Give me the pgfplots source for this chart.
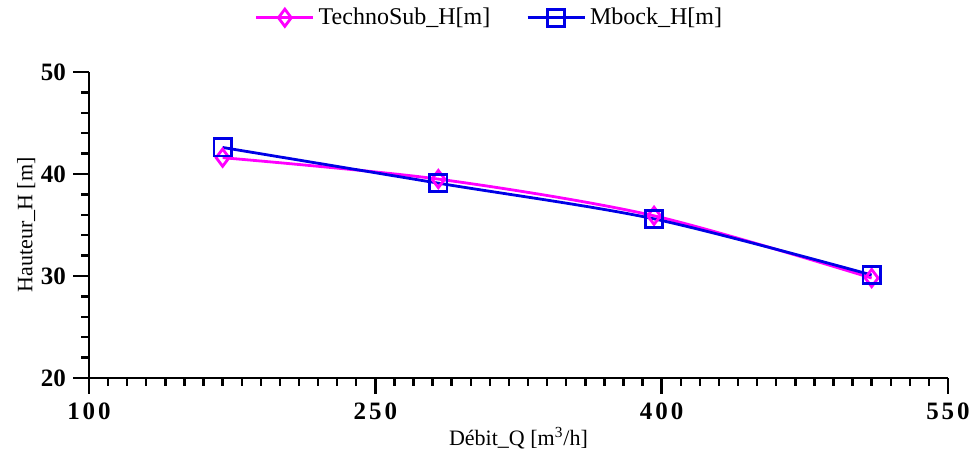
\documentclass[border=0pt]{standalone}
\usepackage{fontspec}
\setmainfont{Liberation Serif}
\usepackage{pgfplots}
\pgfplotsset{compat=1.18}
\usetikzlibrary{calc}
\definecolor{mag}{RGB}{255,0,255}
\definecolor{blu}{RGB}{0,0,230}
\begin{document}
\begin{tikzpicture}
\begin{axis}[
  scale only axis,
  width=429.5pt, height=153pt,
  xmin=100, xmax=550, ymin=20, ymax=50,
  xtick={100,250,400,550}, ytick={20,30,40,50},
  minor xtick={110,120,...,540}, minor ytick={22,24,26,28,32,34,36,38,42,44,46,48},
  axis x line*=bottom, axis y line*=left,
  axis line style={line width=1.2pt,-},
  major tick length=8pt, minor tick length=4pt,
  every major tick/.style={line width=1.2pt,black},
  every minor tick/.style={line width=1.2pt,black},
  xtick align=outside, ytick align=outside,
  major tick style={tick align=center},
  /pgf/number format/assume math mode=true,
  ticklabel style={font=\fontsize{12.5}{14}\selectfont\bfseries},
  xticklabel style={yshift=-1pt,/pgf/number format/set thousands separator={}},
  xticklabels={\addfontfeature{LetterSpace=12}100,\addfontfeature{LetterSpace=12}250,\addfontfeature{LetterSpace=12}400,\addfontfeature{LetterSpace=12}550},
  label style={font=\fontsize{11}{13}\selectfont},
  xlabel={Débit\_Q [m\textsuperscript{3}/h]},
  ylabel={Hauteur\_H [m]},
  xlabel style={yshift=3pt},
  ylabel style={yshift=-4pt},
  legend style={at={(0.5,1.0)},anchor=south,yshift=18pt,xshift=-14pt,draw=none,
    legend columns=2,font=\fontsize{12}{14}\selectfont,
    /tikz/every even column/.append style={column sep=16pt}},
  legend image code/.code={%
    \draw[mark repeat=2,mark phase=2] plot coordinates {(0cm,0cm) (0.5cm,0cm) (1.0cm,0cm)};},
  legend cell align=left,
]
\addplot[color=mag,line width=1.4pt,smooth,mark=diamond,
  mark size=4.3pt,mark options={solid,fill=white,line width=1.4pt}]
  coordinates {(170,41.6) (283,39.5) (396,35.9) (510,29.8)};
\addlegendentry{TechnoSub\_H[m]}
\addplot[color=blu,line width=1.4pt,smooth,mark=square,
  mark size=4.3pt,mark options={solid,line width=1.4pt}]
  coordinates {(170,42.6) (283,39.1) (396,35.6) (510,30.1)};
\addlegendentry{Mbock\_H[m]}
\coordinate (ll) at (rel axis cs:0,0);
\coordinate (ur) at (rel axis cs:1,1);
\end{axis}
\pgfresetboundingbox
\useasboundingbox ($(ll)+(-44.5pt,-39.5pt)$) rectangle ($(ur)+(11.5pt,36pt)$);
\end{tikzpicture}
\end{document}
